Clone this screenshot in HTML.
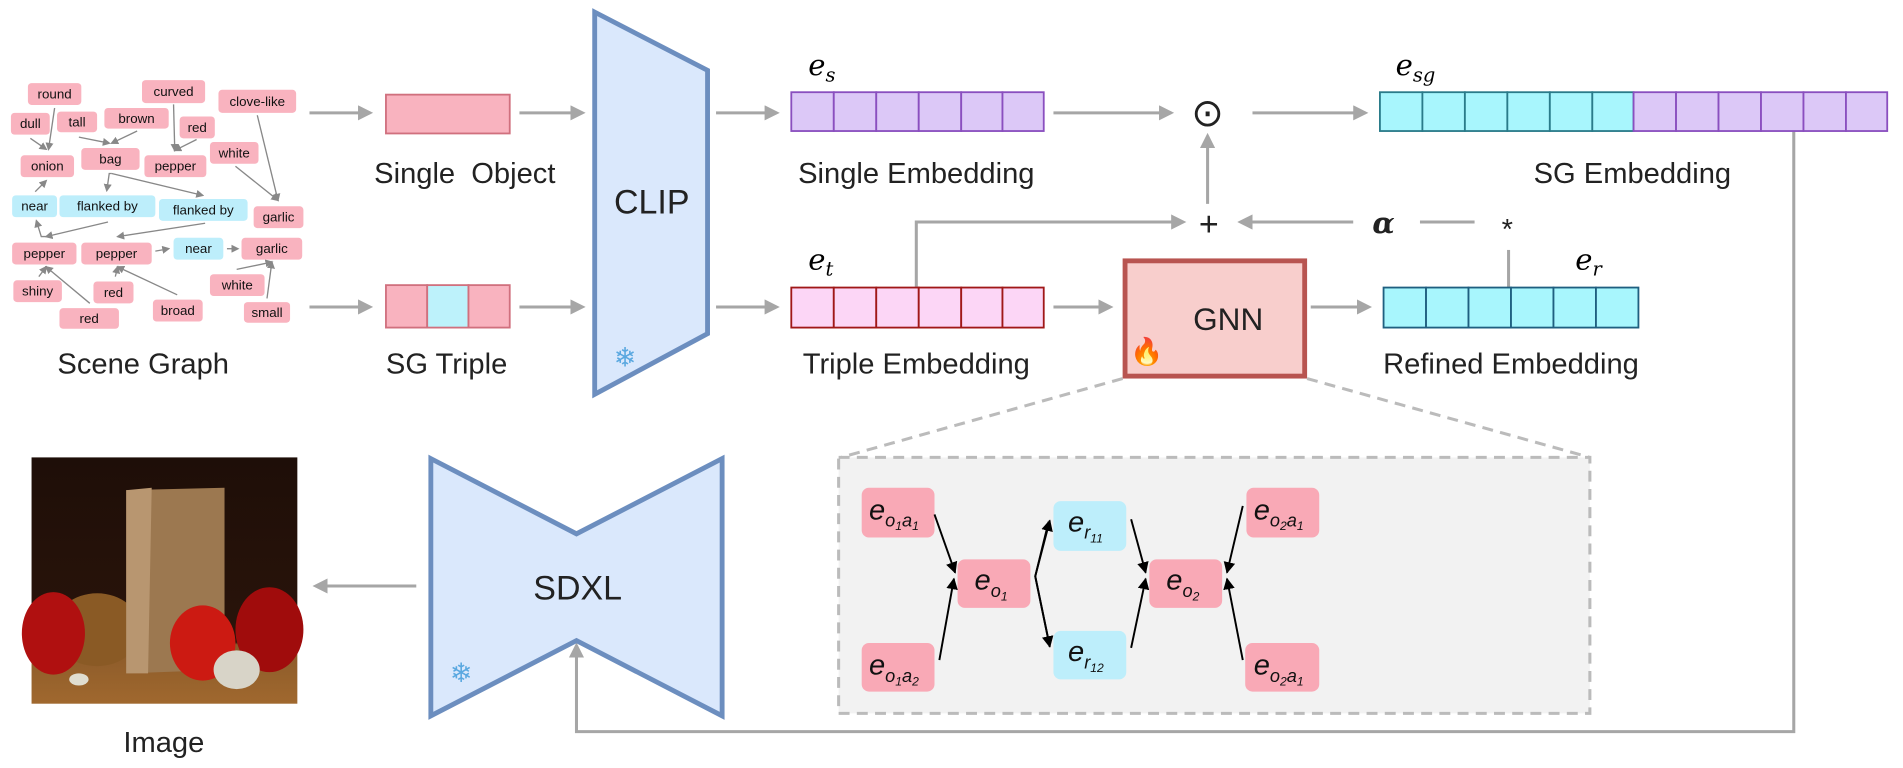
<!DOCTYPE html>
<html><head><meta charset="utf-8"><style>
html,body{margin:0;padding:0;background:#fff;}
svg{display:block;}
text{font-family:"Liberation Sans","DejaVu Sans",sans-serif;}
.sg text{font-size:11px;text-anchor:middle;dominant-baseline:central;}
.lbl{font-size:24px;text-anchor:middle;fill:#222;}
.m{font-family:"DejaVu Serif","Liberation Serif",serif;font-style:italic;}
</style></head><body>
<svg width="1903" height="768" viewBox="0 0 1568 633" preserveAspectRatio="none" xmlns="http://www.w3.org/2000/svg">
<defs>
<marker id="ga" viewBox="0 0 10 10" refX="8" refY="5" markerWidth="5" markerHeight="5" orient="auto"><path d="M0,0L10,5L0,10z" fill="#a6a6a6"/></marker>
<marker id="sa" viewBox="0 0 10 10" refX="8" refY="5" markerWidth="6" markerHeight="6" orient="auto"><path d="M0,0L10,5L0,10z" fill="#888"/></marker>
<marker id="ba" viewBox="0 0 10 10" refX="9" refY="5" markerWidth="6" markerHeight="6" orient="auto"><path d="M0,0L10,5L0,10z" fill="#000"/></marker>
<linearGradient id="bg" x1="0" y1="0" x2="0" y2="1"><stop offset="0" stop-color="#1e0e08"/><stop offset="0.75" stop-color="#2a140a"/><stop offset="0.76" stop-color="#8a5a2a"/><stop offset="1" stop-color="#a0682e"/></linearGradient>
</defs>

<!-- Scene graph -->
<g class="sg">
<g stroke="#888" stroke-width="1.1" fill="none" marker-end="url(#sa)">
<line x1="45" y1="89" x2="40" y2="123"/><line x1="25" y1="114" x2="38" y2="123"/>
<line x1="65" y1="113" x2="90" y2="118"/><line x1="113" y1="108" x2="92" y2="118"/>
<line x1="143" y1="86" x2="144" y2="124"/><line x1="162" y1="115" x2="144" y2="124"/>
<line x1="194" y1="137" x2="229" y2="165"/><line x1="212" y1="95" x2="229" y2="165"/>
<polyline points="92,143 90,143 88,157"/><polyline points="92,143 167,161"/>
<line x1="29" y1="158" x2="38" y2="149"/>
<polyline points="38,195 34,195 30,182"/>
<line x1="89" y1="183" x2="38" y2="195"/><line x1="169" y1="184" x2="97" y2="195"/>
<line x1="128" y1="207" x2="139" y2="205"/><line x1="187" y1="205" x2="196" y2="205"/>
<line x1="195" y1="222" x2="224" y2="216"/><line x1="220" y1="246" x2="224" y2="216"/>
<line x1="32" y1="228" x2="38" y2="220"/><line x1="74" y1="250" x2="38" y2="220"/>
<line x1="95" y1="228" x2="97" y2="220"/><line x1="146" y1="243" x2="97" y2="220"/>
</g>
<g fill="#f9b3bf">
<rect x="23" y="68.5" width="44" height="18" rx="3"/><rect x="9" y="93" width="32" height="18" rx="3"/>
<rect x="47" y="92" width="33" height="17" rx="3"/><rect x="86" y="89" width="53" height="17" rx="3"/>
<rect x="117" y="66" width="52" height="19" rx="3"/><rect x="148" y="96" width="29" height="18" rx="3"/>
<rect x="180" y="74" width="64" height="19" rx="3"/><rect x="173" y="117" width="40" height="18" rx="3"/>
<rect x="17" y="128" width="44" height="18" rx="3"/><rect x="67" y="122" width="48" height="18" rx="3"/>
<rect x="119" y="128" width="51" height="18" rx="3"/><rect x="209" y="170" width="41" height="18" rx="3"/>
<rect x="10" y="200" width="53" height="18" rx="3"/><rect x="67" y="200" width="58" height="18" rx="3"/>
<rect x="199" y="196" width="50" height="18" rx="3"/><rect x="173" y="226" width="45" height="18" rx="3"/>
<rect x="201" y="249" width="38" height="17" rx="3"/><rect x="11" y="231" width="40" height="18" rx="3"/>
<rect x="77" y="232" width="33" height="18" rx="3"/><rect x="49" y="254" width="49" height="17" rx="3"/>
<rect x="126" y="247" width="41" height="18" rx="3"/>
</g>
<g fill="#bdeefb">
<rect x="10" y="161" width="37" height="18" rx="3"/><rect x="49" y="161" width="79" height="18" rx="3"/>
<rect x="131" y="164" width="73" height="18" rx="3"/><rect x="143" y="196" width="41" height="18" rx="3"/>
</g>
<g fill="#111">
<text x="45" y="77.5">round</text><text x="25" y="102">dull</text><text x="63.5" y="100.5">tall</text>
<text x="112.5" y="97.5">brown</text><text x="143" y="75.5">curved</text><text x="162.5" y="105">red</text>
<text x="212" y="83.5">clove-like</text><text x="193" y="126">white</text><text x="39" y="137">onion</text>
<text x="91" y="131">bag</text><text x="144.5" y="137">pepper</text><text x="229.5" y="179">garlic</text>
<text x="36.5" y="209">pepper</text><text x="96" y="209">pepper</text><text x="224" y="205">garlic</text>
<text x="195.5" y="235">white</text><text x="220" y="257.5">small</text><text x="31" y="240">shiny</text>
<text x="93.5" y="241">red</text><text x="73.5" y="262.5">red</text><text x="146.5" y="256">broad</text>
<text x="28.5" y="170">near</text><text x="88.5" y="170">flanked by</text><text x="167.5" y="173">flanked by</text><text x="163.5" y="205">near</text>
</g>
</g>
<text class="lbl" x="118" y="308">Scene Graph</text>

<!-- gray arrows -->
<g stroke="#a6a6a6" stroke-width="2.5" fill="none" marker-end="url(#ga)">
<line x1="255" y1="93" x2="305" y2="93"/><line x1="255" y1="253" x2="305" y2="253"/>
<line x1="428" y1="93" x2="480" y2="93"/><line x1="428" y1="253" x2="480" y2="253"/>
<line x1="590" y1="93" x2="640" y2="93"/><line x1="590" y1="253" x2="640" y2="253"/>
<line x1="868" y1="93" x2="965" y2="93"/><line x1="1032" y1="93" x2="1125" y2="93"/>
<polyline points="755,237 755,183 975,183"/>
<line x1="995" y1="168" x2="995" y2="112"/>
<line x1="1115" y1="183" x2="1022" y2="183"/>
<line x1="868" y1="253" x2="915" y2="253"/><line x1="1080" y1="253" x2="1128" y2="253"/>
<line x1="343" y1="483" x2="260" y2="483"/>
<polyline points="1478,108 1478,603 475,603 475,532"/>
</g>
<g stroke="#a6a6a6" stroke-width="2.5"><line x1="1170" y1="183" x2="1215" y2="183"/><line x1="1243" y1="206" x2="1243" y2="237"/></g>

<!-- Single Object / SG Triple -->
<rect x="318" y="78" width="102" height="32" fill="#f9b3bf" stroke="#d0707e" stroke-width="1.5"/>
<text class="lbl" x="383" y="151">Single&#160; Object</text>
<rect x="318" y="235" width="34" height="35" fill="#f9b3bf" stroke="#d0707e" stroke-width="1.5"/>
<rect x="352" y="235" width="34" height="35" fill="#bdf2fb" stroke="#d0707e" stroke-width="1.5"/>
<rect x="386" y="235" width="34" height="35" fill="#f9b3bf" stroke="#d0707e" stroke-width="1.5"/>
<text class="lbl" x="368" y="308">SG Triple</text>

<!-- CLIP -->
<polygon points="490,10 583,58 583,275 490,325" fill="#dae8fc" stroke="#6c8ebf" stroke-width="4"/>
<text x="537" y="176" font-size="28" text-anchor="middle" fill="#222">CLIP</text>
<text x="515" y="302" font-size="22" text-anchor="middle" fill="#5aa8e0">❄</text>

<!-- Single Embedding -->
<g stroke="#8a4fbf" stroke-width="1.5" fill="#dcc8f7">
<rect x="652" y="76" width="35" height="32"/><rect x="687" y="76" width="35" height="32"/><rect x="722" y="76" width="35" height="32"/><rect x="757" y="76" width="35" height="32"/><rect x="792" y="76" width="34" height="32"/><rect x="826" y="76" width="34" height="32"/>
</g>
<text class="m" x="666" y="62" font-size="24">e<tspan font-size="16" dy="5">s</tspan></text>
<text class="lbl" x="755" y="151">Single Embedding</text>

<!-- Triple Embedding -->
<g stroke="#a01818" stroke-width="1.5" fill="#fcd6f6">
<rect x="652" y="237" width="35" height="33"/><rect x="687" y="237" width="35" height="33"/><rect x="722" y="237" width="35" height="33"/><rect x="757" y="237" width="35" height="33"/><rect x="792" y="237" width="34" height="33"/><rect x="826" y="237" width="34" height="33"/>
</g>
<text class="m" x="666" y="222" font-size="24">e<tspan font-size="16" dy="5">t</tspan></text>
<text class="lbl" x="755" y="308">Triple Embedding</text>

<text x="995" y="104" font-size="32" text-anchor="middle" fill="#222">⊙</text>
<text x="996" y="194" font-size="28" text-anchor="middle" fill="#222">+</text>
<text x="1140" y="192" font-size="24" font-weight="bold" text-anchor="middle" fill="#222" class="m">α</text>
<text x="1242" y="197" font-size="24" text-anchor="middle" fill="#222">*</text>

<!-- SG Embedding -->
<g stroke="#2a7b8a" stroke-width="1.5" fill="#a8f6fd">
<rect x="1137" y="76" width="35" height="32"/><rect x="1172" y="76" width="35" height="32"/><rect x="1207" y="76" width="35" height="32"/><rect x="1242" y="76" width="35" height="32"/><rect x="1277" y="76" width="35" height="32"/><rect x="1312" y="76" width="34" height="32"/>
</g>
<g stroke="#8a4fbf" stroke-width="1.5" fill="#dcc8f7">
<rect x="1346" y="76" width="35" height="32"/><rect x="1381" y="76" width="35" height="32"/><rect x="1416" y="76" width="35" height="32"/><rect x="1451" y="76" width="35" height="32"/><rect x="1486" y="76" width="35" height="32"/><rect x="1521" y="76" width="34" height="32"/>
</g>
<text class="m" x="1150" y="62" font-size="24">e<tspan font-size="16" dy="5">sg</tspan></text>
<text class="lbl" x="1345" y="151">SG Embedding</text>

<!-- GNN -->
<rect x="927" y="215" width="148" height="95" fill="#f8cecc" stroke="#b85450" stroke-width="4"/>
<text x="1012" y="272" font-size="26" text-anchor="middle" fill="#222">GNN</text>
<text x="945" y="297" font-size="22" text-anchor="middle" fill="#f07020">🔥</text>

<!-- Refined -->
<g stroke="#1f5f80" stroke-width="1.5" fill="#a8f6fd">
<rect x="1140" y="237" width="35" height="33"/><rect x="1175" y="237" width="35" height="33"/><rect x="1210" y="237" width="35" height="33"/><rect x="1245" y="237" width="35" height="33"/><rect x="1280" y="237" width="35" height="33"/><rect x="1315" y="237" width="35" height="33"/>
</g>
<text class="m" x="1298" y="222" font-size="24">e<tspan font-size="16" dy="5">r</tspan></text>
<text class="lbl" x="1245" y="308">Refined Embedding</text>

<!-- zoom box -->
<g stroke="#bbb" stroke-width="2.5" stroke-dasharray="9,6" fill="none">
<line x1="925" y1="312" x2="693" y2="377"/><line x1="1077" y1="312" x2="1310" y2="377"/>
</g>
<rect x="691" y="377" width="619" height="211" fill="#f2f2f2" stroke="#bbb" stroke-width="2.5" stroke-dasharray="9,6"/>
<g fill="#f9a9b6">
<rect x="710" y="402" width="60" height="41" rx="6"/><rect x="710" y="530" width="60" height="40" rx="6"/>
<rect x="789" y="461" width="60" height="40" rx="6"/><rect x="947" y="461" width="60" height="40" rx="6"/>
<rect x="1027" y="402" width="60" height="41" rx="6"/><rect x="1026" y="530" width="61" height="40" rx="6"/>
</g>
<g fill="#bdeefb"><rect x="868" y="413" width="60" height="41" rx="6"/><rect x="868" y="520" width="60" height="40" rx="6"/></g>
<g stroke="#000" stroke-width="1.6" fill="none" marker-end="url(#ba)">
<line x1="770" y1="424" x2="787" y2="472"/><line x1="774" y1="544" x2="786" y2="477"/>
<polyline points="865,533 853,475 865,429"/><polyline points="853,475 865,533"/>
<line x1="932" y1="428" x2="944" y2="472"/><line x1="932" y1="534" x2="944" y2="477"/>
<line x1="1024" y1="417" x2="1011" y2="472"/><line x1="1024" y1="544" x2="1011" y2="477"/>
</g>
<line x1="853" y1="475" x2="864" y2="430" stroke="#000" stroke-width="1.6"/>
<g class="m" fill="#111" font-size="24">
<text x="716" y="428">e<tspan font-size="15" dy="6">o</tspan><tspan font-size="10" dy="3">1</tspan><tspan font-size="15" dy="-3">a</tspan><tspan font-size="10" dy="3">1</tspan></text>
<text x="716" y="556">e<tspan font-size="15" dy="6">o</tspan><tspan font-size="10" dy="3">1</tspan><tspan font-size="15" dy="-3">a</tspan><tspan font-size="10" dy="3">2</tspan></text>
<text x="803" y="486">e<tspan font-size="15" dy="6">o</tspan><tspan font-size="10" dy="3">1</tspan></text>
<text x="961" y="486">e<tspan font-size="15" dy="6">o</tspan><tspan font-size="10" dy="3">2</tspan></text>
<text x="880" y="438">e<tspan font-size="15" dy="6">r</tspan><tspan font-size="10" dy="3">11</tspan></text>
<text x="880" y="545">e<tspan font-size="15" dy="6">r</tspan><tspan font-size="10" dy="3">12</tspan></text>
<text x="1033" y="428">e<tspan font-size="15" dy="6">o</tspan><tspan font-size="10" dy="3">2</tspan><tspan font-size="15" dy="-3">a</tspan><tspan font-size="10" dy="3">1</tspan></text>
<text x="1033" y="556">e<tspan font-size="15" dy="6">o</tspan><tspan font-size="10" dy="3">2</tspan><tspan font-size="15" dy="-3">a</tspan><tspan font-size="10" dy="3">1</tspan></text>
</g>

<!-- SDXL -->
<polygon points="355,378 475,440 595,378 595,590 475,528 355,590" fill="#dae8fc" stroke="#6c8ebf" stroke-width="4"/>
<text x="476" y="494" font-size="28" text-anchor="middle" fill="#222">SDXL</text>
<text x="380" y="562" font-size="22" text-anchor="middle" fill="#5aa8e0">❄</text>

<!-- Image -->
<rect x="26" y="377" width="219" height="203" fill="url(#bg)"/>
<ellipse cx="80" cy="519" rx="36" ry="30" fill="#8a5a25"/>
<ellipse cx="44" cy="522" rx="26" ry="34" fill="#b01010"/>
<polygon points="104,404 185,402 185,552 104,555" fill="#9c7850"/>
<polygon points="104,404 125,402 122,555 104,555" fill="#b89670"/>
<ellipse cx="222" cy="519" rx="28" ry="35" fill="#a00c0c"/>
<ellipse cx="167" cy="530" rx="27" ry="31" fill="#cc1a12"/>
<ellipse cx="195" cy="552" rx="19" ry="16" fill="#d8d4c8"/>
<ellipse cx="65" cy="560" rx="8" ry="5" fill="#e0ddd0"/>
<text class="lbl" x="135" y="620">Image</text>
</svg>
</body></html>
